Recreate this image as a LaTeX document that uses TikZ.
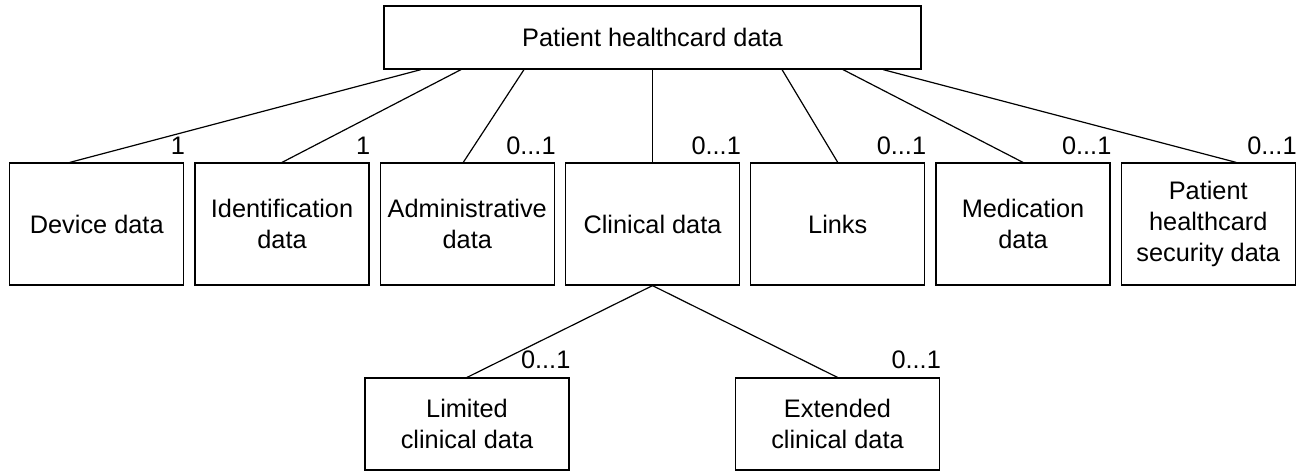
\documentclass[tikz,border=0pt]{standalone}
\usepackage{fontspec}
\setmainfont{Liberation Sans}
\usepackage{tikz}
\usetikzlibrary{calc}
\usetikzlibrary{positioning}
\tikzset{part/.style={draw=black,line width=0.9pt,minimum width=130.5pt,minimum height=91.5pt,inner sep=2pt,align=center,font=\fontsize{19}{23}\selectfont}}
\tikzset{subpart/.style={part,minimum width=153pt,minimum height=69pt}}
\tikzset{root/.style={part,minimum width=402.75pt,minimum height=47.25pt}}
\tikzset{card/.style={anchor=base east,inner sep=0pt,font=\fontsize{19}{23}\selectfont}}
\tikzset{link/.style={line width=0.9pt}}

\begin{document}
\begin{tikzpicture}[x=0.75pt,y=-0.75pt]
\useasboundingbox (0,0) rectangle (1305,472);
\node[root] (phd) at (652.5,37.5) {Patient healthcard data};

\foreach \k/\name/\txt/\cnt/\ta/\tb in {
	-3/dev/{Device data}/{1}/-231.5/-27,
	-2/ident/{Identification\\data}/{1}/-191.5/0,
	-1/admin/{Administrative\\data}/{0...1}/-128.5/-4,
	0/clin/{Clinical data}/{0...1}/0/0,
	1/links/{Links}/{0...1}/129.5/0,
	2/med/{Medication\\data}/{0...1}/190.5/0,
	3/sec/{Patient\\healthcard\\security data}/{0...1}/230.5/28} {
	\node[part] (\name) at (652.5+185.25*\k,224) {\txt};
	\draw[link] ($(phd.south)+(\ta,0)$) -- ($(\name.north)+(\tb,0)$);
	\node[card] (c\name) at ($(\name.north east)+(1,-8)$) {\cnt};
	}

\node[subpart] (lim) at (467,424) {Limited\\clinical data};
\node[subpart] (ext) at (837.5,424) {Extended\\clinical data};
\foreach \name in {lim,ext} {
	\draw[link] (clin.south) -- (\name.north);
	\node[card] (c\name) at ($(\name.north east)+(1,-9)$) {0...1};
	}
\end{tikzpicture}
\end{document}
